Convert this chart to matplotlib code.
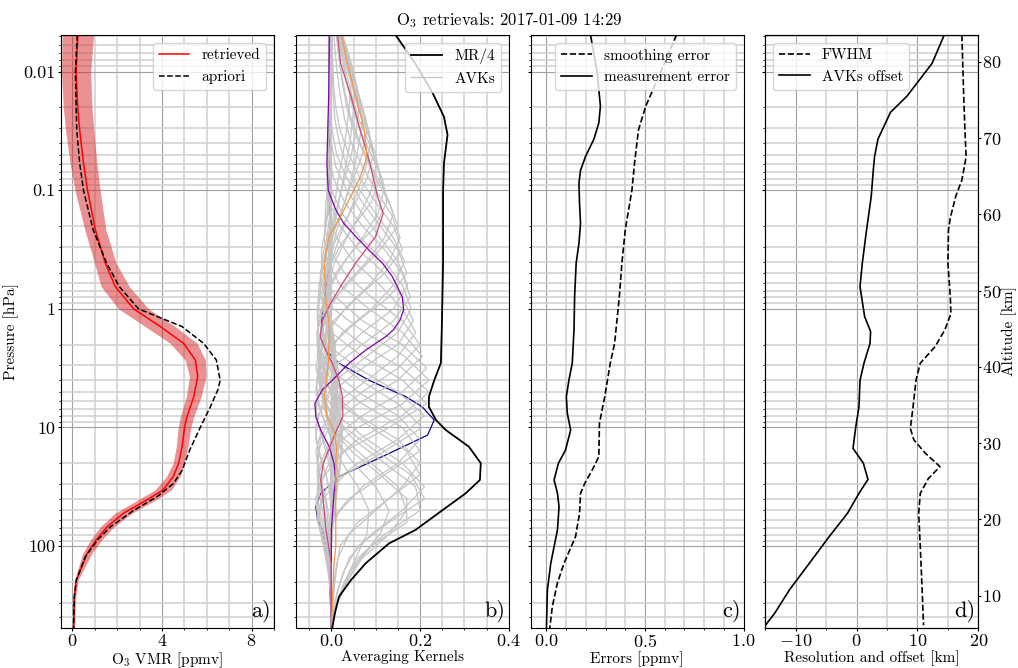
"""
O3 retrieval summary: profile, averaging kernels, errors, resolution.
"""
import matplotlib
matplotlib.use('Agg')
import matplotlib.pyplot as plt
from matplotlib.ticker import MultipleLocator, FixedLocator, FuncFormatter, NullFormatter, LogLocator

plt.rcParams.update({
    'font.family': 'serif',
    'font.serif': ['cmr10'],
    'mathtext.fontset': 'cm',
    'axes.formatter.use_mathtext': True,
    'font.size': 11,
    'xtick.labelsize': 13,
    'ytick.labelsize': 13,
    'xtick.major.size': 2.5,
    'ytick.major.size': 2.5,
    'xtick.minor.size': 1.5,
    'ytick.minor.size': 1.5,
    'xtick.major.pad': 1.5,
    'ytick.major.pad': 1.5,
    'axes.labelpad': 0.5,
    'axes.unicode_minus': True,
})

# --- a) O3 profile ---
p_ret = [0.0049, 0.01, 0.02, 0.031, 0.059, 0.1, 0.215, 0.41, 0.65, 1.0, 1.41, 1.95, 2.7, 3.7,
         5.5, 8.1, 10, 14.5, 20, 26, 33.7, 40.8, 52.8, 69, 87, 116, 194, 270, 490]
o3_ret = [0.25, 0.17, 0.24, 0.33, 0.5, 0.68, 1.03, 1.47, 1.92, 2.74, 3.93, 4.97, 5.49, 5.6,
          5.42, 5.12, 5.01, 4.9, 4.75, 4.5, 4.05, 3.33, 2.29, 1.55, 1.1, 0.66, 0.18, 0.09, 0.06]
o3_err = [0.7, 0.65, 0.64, 0.63, 0.6, 0.56, 0.47, 0.48, 0.63, 0.67, 0.67, 0.6, 0.45, 0.37,
          0.33, 0.3, 0.28, 0.26, 0.25, 0.3, 0.37, 0.4, 0.38, 0.3, 0.26, 0.2, 0.08, 0.06, 0.04]
p_apr = [0.0049, 0.01, 0.02, 0.031, 0.059, 0.1, 0.215, 0.41, 0.65, 1.0, 1.41, 1.95, 2.7, 4.0,
         4.8, 6.7, 10, 15.5, 23, 29.6, 38.4, 50, 69, 87, 123, 194, 270, 490]
o3_apr = [0.22, 0.14, 0.17, 0.2, 0.33, 0.5, 0.93, 1.53, 2.1, 2.96, 4.9, 5.86, 6.43, 6.6,
          6.5, 6.16, 5.71, 5.24, 4.9, 4.52, 3.78, 2.74, 1.7, 1.17, 0.58, 0.18, 0.09, 0.06]

# --- b) averaging kernels (two interleaved sets of retrieval levels) ---
p_avk = [500, 316, 200, 126, 79.4, 50.1, 31.6, 20.0, 12.6, 7.94, 5.01, 3.16, 2.0, 1.26,
         0.794, 0.501, 0.316, 0.2, 0.126, 0.0794, 0.0501, 0.0316, 0.02, 0.0126, 0.00794, 0.00501]
avk_gray = [
    [0.0, 0.01, 0.03, 0.055, 0.08, 0.085, 0.06, 0.025, 0.0, -0.01, -0.012, -0.008, -0.004, 0, 0, 0, 0, 0, 0, 0, 0, 0, 0, 0, 0, 0],
    [0.0, 0.012, 0.035, 0.065, 0.11, 0.13, 0.1, 0.05, 0.01, -0.012, -0.018, -0.012, -0.005, 0, 0, 0, 0, 0, 0, 0, 0, 0, 0, 0, 0, 0],
    [0.0, 0.012, 0.035, 0.07, 0.13, 0.17, 0.15, 0.09, 0.03, -0.01, -0.022, -0.018, -0.008, 0, 0, 0, 0, 0, 0, 0, 0, 0, 0, 0, 0, 0],
    [0.0, 0.01, 0.03, 0.06, 0.12, 0.2, 0.19, 0.12, 0.05, 0.0, -0.025, -0.025, -0.012, -0.004, 0, 0, 0, 0, 0, 0, 0, 0, 0, 0, 0, 0],
    [0.0, 0.006, 0.02, 0.04, 0.09, 0.16, 0.21, 0.16, 0.08, 0.015, -0.02, -0.03, -0.02, -0.008, 0, 0, 0, 0, 0, 0, 0, 0, 0, 0, 0, 0],
    [0.0, 0.003, 0.008, 0.015, 0.04, 0.1, 0.16, 0.2, 0.15, 0.06, 0.0, -0.028, -0.03, -0.015, -0.005, 0, 0, 0, 0, 0, 0, 0, 0, 0, 0, 0],
    [0.0, 0.0, 0.0, -0.005, -0.01, 0.02, 0.07, 0.15, 0.2, 0.15, 0.06, -0.005, -0.03, -0.03, -0.015, -0.004, 0, 0, 0, 0, 0, 0, 0, 0, 0, 0],
    [0.0, 0.0, -0.003, -0.01, -0.022, -0.03, -0.01, 0.06, 0.15, 0.21, 0.15, 0.06, -0.01, -0.03, -0.03, -0.015, -0.004, 0, 0, 0, 0, 0, 0, 0, 0, 0],
    [0.0, 0.0, 0.0, -0.008, -0.018, -0.03, -0.03, -0.005, 0.06, 0.16, 0.22, 0.16, 0.07, 0.0, -0.025, -0.025, -0.012, -0.003, 0, 0, 0, 0, 0, 0, 0, 0],
    [0.0, 0.0, 0.0, -0.005, -0.012, -0.02, -0.03, -0.025, 0.0, 0.07, 0.16, 0.215, 0.16, 0.07, 0.01, -0.02, -0.022, -0.012, -0.004, 0, 0, 0, 0, 0, 0, 0],
    [0.0, 0.0, 0.0, 0.0, -0.005, -0.01, -0.02, -0.03, -0.025, 0.0, 0.07, 0.15, 0.2, 0.16, 0.09, 0.03, -0.005, -0.015, -0.012, -0.006, 0, 0, 0, 0, 0, 0],
    [0, 0, 0, 0, 0, 0, -0.005, -0.02, -0.035, -0.03, 0.0, 0.07, 0.15, 0.185, 0.16, 0.12, 0.06, 0.02, -0.005, -0.01, -0.008, -0.004, 0, 0, 0, 0],
    [0, 0, 0, 0, 0, 0, 0.005, -0.005, -0.02, -0.035, -0.03, 0.0, 0.07, 0.14, 0.178, 0.16, 0.12, 0.07, 0.03, 0.005, -0.005, -0.008, -0.006, -0.004, -0.002, 0],
    [0, 0, 0, 0, 0, 0, 0.008, 0.01, 0.0, -0.02, -0.035, -0.03, 0.0, 0.06, 0.13, 0.17, 0.15, 0.11, 0.07, 0.035, 0.012, 0.002, -0.002, -0.003, -0.002, 0],
    [0, 0, 0, 0, 0, 0.005, 0.01, 0.015, 0.015, 0.0, -0.02, -0.035, -0.025, 0.005, 0.06, 0.12, 0.16, 0.14, 0.1, 0.065, 0.04, 0.02, 0.01, 0.005, 0.003, 0.002],
    [0, 0, 0, 0, 0, 0.004, 0.01, 0.02, 0.025, 0.02, 0.0, -0.02, -0.03, -0.02, 0.01, 0.06, 0.11, 0.15, 0.13, 0.1, 0.075, 0.05, 0.035, 0.025, 0.018, 0.012],
    [0, 0, 0, 0, 0, 0, 0.005, 0.012, 0.02, 0.025, 0.02, 0.005, -0.015, -0.025, -0.015, 0.01, 0.05, 0.1, 0.125, 0.115, 0.09, 0.065, 0.048, 0.035, 0.025, 0.016],
    [0, 0, 0, 0, 0, 0, 0, 0.005, 0.01, 0.015, 0.02, 0.015, 0.0, -0.015, -0.02, -0.01, 0.015, 0.05, 0.09, 0.11, 0.1, 0.08, 0.06, 0.045, 0.03, 0.02],
    [0, 0, 0, 0, 0, 0, 0, 0, 0.005, 0.01, 0.012, 0.012, 0.008, -0.005, -0.012, -0.012, 0.0, 0.025, 0.055, 0.08, 0.095, 0.085, 0.068, 0.05, 0.035, 0.022],
    [0, 0, 0, 0, 0, 0, 0, 0, 0, 0.005, 0.008, 0.01, 0.008, 0.0, -0.006, -0.01, -0.005, 0.01, 0.03, 0.05, 0.07, 0.08, 0.07, 0.055, 0.038, 0.024],
    [0, 0, 0, 0, 0, 0, 0, 0, 0, 0, 0.004, 0.006, 0.005, 0.0, -0.004, -0.006, -0.004, 0.004, 0.015, 0.03, 0.045, 0.056, 0.062, 0.055, 0.04, 0.025],
    [0, 0, 0, 0, 0, 0, 0, 0, 0, 0, 0, 0, 0.003, 0.0, -0.002, -0.003, -0.002, 0.002, 0.008, 0.016, 0.026, 0.034, 0.04, 0.045, 0.038, 0.025],
]
p_avk2 = [500, 398, 251, 158, 100, 63.1, 39.8, 25.1, 15.8, 10.0, 6.31, 3.98, 2.51, 1.58, 1.0,
          0.631, 0.398, 0.251, 0.158, 0.1, 0.0631, 0.0398, 0.0251, 0.0158, 0.01, 0.00631, 0.0049]
avk_gray2 = [
    [0, 0.005, 0.02, 0.045, 0.09, 0.17, 0.17, 0.11, 0.045, 0.0, -0.02, -0.022, -0.01, -0.003, 0, 0, 0, 0, 0, 0, 0, 0, 0, 0, 0, 0, 0],
    [0, 0.004, 0.012, 0.03, 0.06, 0.13, 0.21, 0.18, 0.1, 0.03, -0.015, -0.03, -0.025, -0.01, -0.003, 0, 0, 0, 0, 0, 0, 0, 0, 0, 0, 0, 0],
    [0, 0.0, 0.004, 0.01, 0.02, 0.06, 0.13, 0.2, 0.17, 0.09, 0.02, -0.02, -0.032, -0.022, -0.008, 0, 0, 0, 0, 0, 0, 0, 0, 0, 0, 0, 0],
    [0, 0, 0, -0.003, -0.008, -0.005, 0.04, 0.12, 0.2, 0.16, 0.07, 0.0, -0.03, -0.033, -0.02, -0.006, 0, 0, 0, 0, 0, 0, 0, 0, 0, 0, 0],
    [0, 0, -0.002, -0.008, -0.018, -0.03, -0.02, 0.03, 0.12, 0.205, 0.15, 0.065, -0.005, -0.03, -0.032, -0.018, -0.005, 0, 0, 0, 0, 0, 0, 0, 0, 0, 0],
    [0, 0, 0, -0.006, -0.015, -0.03, -0.035, -0.015, 0.03, 0.13, 0.215, 0.16, 0.07, 0.0, -0.028, -0.028, -0.014, -0.004, 0, 0, 0, 0, 0, 0, 0, 0, 0],
    [0, 0, 0, -0.004, -0.01, -0.02, -0.032, -0.03, -0.008, 0.06, 0.16, 0.22, 0.165, 0.075, 0.005, -0.022, -0.022, -0.01, -0.003, 0, 0, 0, 0, 0, 0, 0, 0],
    [0, 0, 0, 0, -0.004, -0.01, -0.02, -0.032, -0.03, -0.005, 0.06, 0.15, 0.205, 0.16, 0.085, 0.02, -0.01, -0.016, -0.01, -0.004, 0, 0, 0, 0, 0, 0, 0],
    [0, 0, 0, 0, 0, -0.003, -0.012, -0.028, -0.035, -0.02, 0.01, 0.08, 0.15, 0.19, 0.16, 0.11, 0.05, 0.012, -0.006, -0.01, -0.006, -0.002, 0, 0, 0, 0, 0],
    [0, 0, 0, 0, 0, 0, 0.0, -0.012, -0.03, -0.036, -0.02, 0.01, 0.08, 0.15, 0.18, 0.16, 0.12, 0.065, 0.025, 0.0, -0.007, -0.007, -0.005, -0.003, -0.001, 0, 0],
    [0, 0, 0, 0, 0, 0, 0.006, 0.006, -0.008, -0.028, -0.036, -0.02, 0.01, 0.07, 0.14, 0.172, 0.15, 0.11, 0.07, 0.035, 0.01, 0.0, -0.003, -0.003, -0.002, 0, 0],
    [0, 0, 0, 0, 0, 0.004, 0.01, 0.014, 0.008, -0.01, -0.03, -0.033, -0.012, 0.025, 0.09, 0.14, 0.165, 0.14, 0.1, 0.065, 0.035, 0.018, 0.008, 0.004, 0.002, 0.001, 0.001],
    [0, 0, 0, 0, 0, 0.004, 0.01, 0.018, 0.022, 0.01, -0.01, -0.028, -0.028, -0.008, 0.03, 0.085, 0.13, 0.155, 0.135, 0.1, 0.07, 0.045, 0.03, 0.02, 0.013, 0.008, 0.006],
    [0, 0, 0, 0, 0, 0, 0.008, 0.016, 0.024, 0.024, 0.01, -0.01, -0.022, -0.022, -0.005, 0.03, 0.08, 0.12, 0.14, 0.12, 0.09, 0.065, 0.045, 0.032, 0.022, 0.015, 0.012],
    [0, 0, 0, 0, 0, 0, 0, 0.008, 0.014, 0.02, 0.02, 0.008, -0.008, -0.018, -0.016, 0.0, 0.03, 0.07, 0.105, 0.118, 0.105, 0.085, 0.062, 0.046, 0.033, 0.022, 0.018],
    [0, 0, 0, 0, 0, 0, 0, 0, 0.006, 0.012, 0.014, 0.012, 0.002, -0.01, -0.014, -0.008, 0.008, 0.035, 0.065, 0.09, 0.1, 0.09, 0.072, 0.055, 0.04, 0.027, 0.021],
    [0, 0, 0, 0, 0, 0, 0, 0, 0, 0.006, 0.009, 0.01, 0.005, -0.004, -0.009, -0.008, 0.0, 0.018, 0.04, 0.06, 0.078, 0.088, 0.078, 0.062, 0.046, 0.032, 0.024],
    [0, 0, 0, 0, 0, 0, 0, 0, 0, 0, 0.005, 0.007, 0.004, -0.002, -0.006, -0.006, -0.002, 0.008, 0.022, 0.038, 0.052, 0.063, 0.07, 0.062, 0.05, 0.035, 0.025],
    [0, 0, 0, 0, 0, 0, 0, 0, 0, 0, 0, 0.004, 0.002, -0.001, -0.003, -0.004, -0.002, 0.003, 0.012, 0.022, 0.032, 0.042, 0.048, 0.052, 0.047, 0.034, 0.025],
]

p_orange = [0.0049, 0.0085, 0.016, 0.031, 0.049, 0.059, 0.081, 0.112, 0.166, 0.245, 0.41, 0.79,
            1.5, 2.87, 5.5, 8.1, 10.5, 14.5, 20, 101, 140, 490]
avk_orange = [0.023, 0.036, 0.055, 0.074, 0.080, 0.076, 0.063, 0.044, 0.021, -0.005, -0.016, -0.013,
              -0.004, -0.007, -0.016, -0.009, 0.005, 0.012, 0.01, 0.01, 0.006, 0.0]
p_crimson = [0.0049, 0.0085, 0.016, 0.031, 0.059, 0.112, 0.156, 0.245, 0.41, 0.61, 0.9, 1.24, 1.71,
             2.22, 2.87, 4.0, 5.5, 8.1, 10.5, 14.5, 20, 27.7, 35.9, 73, 101, 140, 490]
avk_crimson = [0.014, 0.021, 0.044, 0.065, 0.087, 0.104, 0.117, 0.1, 0.055, 0.025, -0.002, -0.02, -0.025,
               -0.013, 0.002, 0.017, 0.025, 0.026, 0.012, -0.003, -0.018, -0.024, -0.02, -0.012, -0.006, 0.0, 0.0]
p_purple = [0.0049, 0.016, 0.031, 0.059, 0.1, 0.146, 0.19, 0.245, 0.32, 0.41, 0.53, 0.79, 1.02, 1.24,
            1.5, 1.71, 2.22, 2.87, 4.0, 4.8, 6.25, 8.1, 10.5, 14.5, 20, 27.7, 35.9, 73, 490]
avk_purple = [-0.005, -0.006, -0.008, -0.01, -0.007, 0.01, 0.028, 0.055, 0.085, 0.115, 0.137, 0.16, 0.163, 0.155,
              0.14, 0.123, 0.078, 0.04, 0.002, -0.02, -0.037, -0.035, -0.024, -0.005, 0.006, 0.01, 0.006, 0.0, 0.0]
p_blue = [0.0049, 0.112, 0.215, 0.41, 0.79, 1.3, 1.5, 2.22, 2.87, 4.0, 5.5, 6.7, 8.65, 11.6, 17.6,
          26, 35.9, 46.6, 60, 73, 101, 140, 490]
avk_blue = [-0.003, -0.003, -0.002, -0.003, -0.015, -0.022, -0.02, -0.013, 0.017, 0.085, 0.168, 0.205, 0.232, 0.217, 0.115,
            0.017, -0.024, -0.035, -0.031, -0.02, -0.013, -0.005, 0.0]

p_mr = [0.0049, 0.0086, 0.015, 0.024, 0.034, 0.059, 0.1, 0.41, 1.5, 2.86, 4.0, 5.5, 6.7, 8.65, 10.5,
        14.5, 20, 27.7, 35.9, 50, 73, 95, 139, 194, 268, 368, 490]
mr_4 = [0.145, 0.19, 0.228, 0.254, 0.262, 0.254, 0.252, 0.252, 0.249, 0.247, 0.232, 0.22, 0.22, 0.236, 0.258,
        0.31, 0.337, 0.335, 0.303, 0.25, 0.19, 0.13, 0.078, 0.044, 0.017, 0.008, 0.002]

# --- c) errors ---
p_meas = [0.0049, 0.0085, 0.01, 0.0195, 0.027, 0.037, 0.052, 0.068, 0.087, 0.129, 0.19, 0.28, 0.41, 0.79,
          1.5, 2.87, 4.0, 5.5, 7.6, 10.5, 15.5, 20, 27.7, 35.9, 46.6, 73, 101, 140, 234, 490]
err_meas = [0.224, 0.249, 0.257, 0.274, 0.266, 0.241, 0.198, 0.173, 0.165, 0.168, 0.173, 0.165, 0.151, 0.143,
            0.14, 0.131, 0.114, 0.101, 0.106, 0.123, 0.097, 0.061, 0.039, 0.056, 0.064, 0.056, 0.039, 0.022, 0.005, 0.0]
p_smooth = [0.0049, 0.015, 0.0195, 0.031, 0.059, 0.099, 0.215, 0.41, 0.79, 1.95, 2.87, 5.5, 9.2, 17.6,
            22.9, 29.5, 35.9, 53, 83, 140, 207, 324, 490]
err_smooth = [0.66, 0.534, 0.504, 0.467, 0.447, 0.434, 0.40, 0.383, 0.37, 0.346, 0.324, 0.296, 0.269, 0.266,
              0.232, 0.195, 0.173, 0.168, 0.148, 0.089, 0.055, 0.03, 0.017]

# --- d) resolution and offset ---
p_offset = [0.0049, 0.0085, 0.016, 0.022, 0.031, 0.037, 0.052, 0.068, 0.112, 0.215, 0.41, 0.65, 1.16, 1.55,
            1.95, 2.87, 4.0, 6.7, 10, 15, 20, 27.4, 35.9, 53, 83, 140, 234, 370, 465]
avk_offset = [14.4, 12.4, 8.3, 5.56, 4.2, 3.5, 2.94, 2.73, 2.4, 1.63, 0.93, 0.55, 1.31, 2.29,
              2.2, 1.2, 0.55, 0.38, -0.16, -0.6, 1.1, 1.86, 0.38, -1.52, -4.5, -7.8, -11.05, -13.5, -15.0]
p_fwhm = [0.0049, 0.016, 0.031, 0.052, 0.082, 0.112, 0.17, 0.215, 0.41, 0.79, 1.1, 1.5, 2.08, 2.87,
          4.0, 6.7, 10.2, 12.7, 16.5, 21.4, 26.9, 35.9, 53, 101, 194, 465]
fwhm = [17.3, 17.6, 17.8, 18.0, 17.3, 16.3, 15.4, 15.1, 15.0, 15.4, 15.5, 14.5, 12.9, 10.46,
        9.75, 9.27, 8.83, 9.4, 11.3, 13.7, 11.8, 10.46, 10.2, 10.46, 10.7, 11.0]


def main():
    fig, axes = plt.subplots(1, 4, sharey=True, figsize=(10.18, 6.68), dpi=100)
    fig.subplots_adjust(left=0.06, right=0.961, bottom=0.06, top=0.9476, wspace=0.103)
    ax_a, ax_b, ax_c, ax_d = axes

    # a) profile
    lo = [r - e for r, e in zip(o3_ret, o3_err)]
    hi = [r + e for r, e in zip(o3_ret, o3_err)]
    ax_a.fill_betweenx(p_ret, lo, hi, color='tab:red', alpha=0.5, lw=0)
    ax_a.plot(o3_ret, p_ret, color='red', lw=1.1, label='retrieved')
    ax_a.plot(o3_apr, p_apr, color='black', ls='--', lw=1.1, label='apriori')
    ax_a.set_xlim(-0.5, 9)
    ax_a.xaxis.set_major_locator(FixedLocator([0, 4, 8]))
    ax_a.xaxis.set_minor_locator(MultipleLocator(1))
    ax_a.set_xlabel('O$_3$ VMR [ppmv]')
    ax_a.set_ylabel('Pressure [hPa]', labelpad=3)
    ax_a.legend(loc='upper right')

    # b) averaging kernels
    ax_b.plot(avk_blue, p_blue, color='#0d0887', lw=0.9)
    for i, row in enumerate(avk_gray):
        ax_b.plot(row, p_avk, color='#c4c4c4', lw=0.9, label='AVKs' if i == 0 else None)
    for row in avk_gray2:
        ax_b.plot(row, p_avk2, color='#c4c4c4', lw=0.9)
    ax_b.plot(avk_purple, p_purple, color='#7e03a8', lw=0.9)
    ax_b.plot(avk_crimson, p_crimson, color='#cc4778', lw=0.9)
    ax_b.plot(avk_orange, p_orange, color='#f89540', lw=0.9)
    ax_b.plot(mr_4, p_mr, color='black', lw=1.3, label='MR/4')
    ax_b.set_xlim(-0.08, 0.4)
    ax_b.xaxis.set_major_locator(FixedLocator([0.0, 0.2, 0.4]))
    ax_b.xaxis.set_minor_locator(MultipleLocator(0.05))
    ax_b.set_xlabel('Averaging Kernels')
    h, l = ax_b.get_legend_handles_labels()
    ax_b.legend(h[::-1], l[::-1], loc='upper right')

    # c) errors
    ax_c.plot(err_smooth, p_smooth, color='black', ls='--', lw=1.2, label='smoothing error')
    ax_c.plot(err_meas, p_meas, color='black', lw=1.2, label='measurement error')
    ax_c.set_xlim(-0.08, 1.0)
    ax_c.xaxis.set_major_locator(FixedLocator([0.0, 0.5, 1.0]))
    ax_c.xaxis.set_minor_locator(MultipleLocator(0.1))
    ax_c.set_xlabel('Errors [ppmv]')
    ax_c.legend(loc='upper right')

    # d) resolution / offset
    ax_d.plot(fwhm, p_fwhm, color='black', ls='--', lw=1.2, label='FWHM')
    ax_d.plot(avk_offset, p_offset, color='black', lw=1.2, label='AVKs offset')
    ax_d.set_xlim(-15, 20)
    ax_d.xaxis.set_major_locator(FixedLocator([-10, 0, 10, 20]))
    ax_d.xaxis.set_minor_locator(MultipleLocator(5))
    ax_d.set_xlabel('Resolution and offset [km]')
    ax_d.legend(loc='upper left')

    ax_a.set_yscale('log')
    ax_a.set_ylim(490, 0.0049)
    ax_a.yaxis.set_major_locator(LogLocator(base=10, numticks=12))
    ax_a.yaxis.set_minor_locator(LogLocator(base=10, subs=range(2, 10), numticks=12))
    ax_a.yaxis.set_major_formatter(FuncFormatter(lambda v, _: f'{v:g}'))
    ax_a.yaxis.set_minor_formatter(NullFormatter())

    for ax, lab in zip(axes, 'abcd'):
        ax.grid(which='major', color='#a0a0a0', lw=0.8)
        ax.grid(which='minor', color='#d0d0d0', lw=1.1)
        ax.set_axisbelow(True)
        ax.text(0.985, 0.01, lab + ')', transform=ax.transAxes, ha='right', va='bottom', fontsize=16)

    ax_alt = ax_d.twinx()
    ax_alt.set_ylim(5.77, 83.5)
    ax_alt.yaxis.set_major_locator(MultipleLocator(10))
    ax_alt.tick_params(axis='y', pad=0.5)
    ax_alt.set_ylabel('Altitude [km]', va='center')
    ax_alt.yaxis.set_label_coords(1.147, 0.5)

    fig.suptitle('O$_3$ retrievals: 2017-01-09 14:29', y=0.985, fontsize=12)
    fig.savefig('out.png', dpi=100)
    plt.close(fig)


if __name__ == '__main__':
    main()
